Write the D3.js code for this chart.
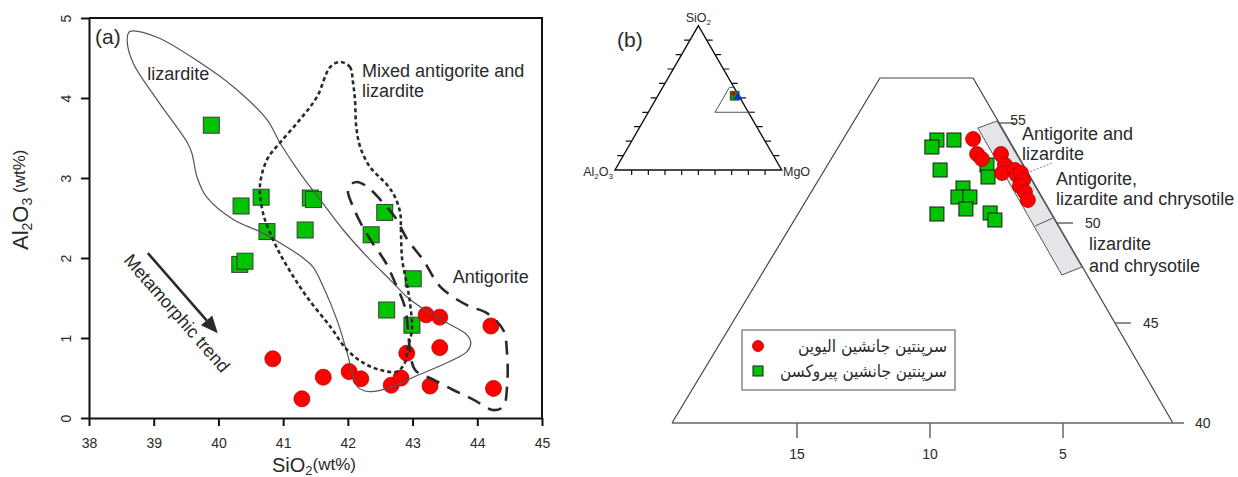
<!DOCTYPE html>
<meta charset="utf-8">
<style>
  body { margin: 0; background: #fff; }
  text { font-family: "Liberation Sans", Arial, sans-serif; fill: #2a2a2a; }
</style>
<body>
<script src="https://d3js.org/d3.v7.min.js"></script>
<script>

var width = 1238,
    height = 477;

// ---- panel (a): SiO2 vs Al2O3 (wt%) ----
var xTicksA = [38, 39, 40, 41, 42, 43, 44, 45];
var yTicksA = [0, 1, 2, 3, 4, 5];

var pyroxeneSiA = [39.89, 40.35, 40.66, 40.75, 40.33, 40.41, 41.42, 41.47, 41.34, 42.57, 42.36, 43.01, 42.60, 42.99];
var pyroxeneAlA = [3.66, 2.65, 2.76, 2.33, 1.92, 1.96, 2.75, 2.73, 2.35, 2.57, 2.29, 1.74, 1.35, 1.16];

var olivineSiA = [40.84, 41.29, 41.62, 42.02, 42.20, 42.67, 42.82, 42.91, 43.21, 43.42, 43.42, 43.27, 44.21, 44.25];
var olivineAlA = [0.74, 0.24, 0.51, 0.58, 0.49, 0.41, 0.50, 0.81, 1.29, 1.26, 0.88, 0.40, 1.15, 0.37];

// field outlines, [SiO2, Al2O3]
var lizarditeField = [[38.63,4.83],[39.05,4.76],[39.72,4.44],[40.23,4.14],[40.75,3.73],[40.95,3.44],[41.26,3.06],
  [41.57,2.73],[41.93,2.35],[42.34,1.98],[42.65,1.73],[42.92,1.51],[43.12,1.39],[43.53,1.19],[43.84,1.04],
  [43.90,0.94],[43.84,0.83],[43.53,0.69],[43.01,0.51],[42.65,0.38],[42.34,0.33],[42.16,0.38],[42.07,0.56],
  [41.99,0.81],[41.83,1.23],[41.62,1.64],[41.46,1.89],[41.26,2.03],[40.95,2.19],[40.64,2.33],[40.23,2.48],
  [39.82,2.76],[39.67,3.01],[39.59,3.31],[39.52,3.44],[39.05,3.98],[38.68,4.44],[38.59,4.73]];

var mixedField = [[41.88,4.45],[42.03,4.39],[42.08,4.19],[42.11,3.98],[42.13,3.64],[42.19,3.39],[42.34,3.14],
  [42.61,2.91],[42.73,2.76],[42.81,2.56],[42.82,2.35],[42.84,1.98],[42.92,1.64],[42.96,1.44],[42.99,1.10],
  [42.93,0.89],[42.88,0.69],[42.76,0.58],[42.50,0.60],[42.24,0.69],[41.99,0.85],[41.73,1.14],[41.37,1.51],
  [41.11,1.83],[40.92,2.10],[40.75,2.41],[40.69,2.56],[40.64,2.89],[40.75,3.23],[40.95,3.44],[41.26,3.73],
  [41.52,4.01],[41.73,4.39]];

var antigoriteField = [[42.03,2.91],[42.00,2.83],[42.07,2.66],[42.19,2.45],[42.37,2.20],[42.58,1.95],[42.73,1.69],
  [42.88,1.39],[42.93,1.10],[42.96,0.85],[43.04,0.60],[43.32,0.48],[43.63,0.35],[43.94,0.23],[44.24,0.10],
  [44.40,0.14],[44.46,0.39],[44.46,0.81],[44.40,1.10],[44.15,1.31],[43.84,1.41],[43.43,1.64],[43.16,1.98],
  [42.92,2.23],[42.73,2.51],[42.50,2.73],[42.30,2.89],[42.14,2.95]];

var trendArrow = [[38.91, 2.06], [39.99, 1.06]];

// ---- panel (b): enlarged part of the SiO2-Al2O3-MgO triangle ----
var bottomTicksB = [15, 10, 5];
var sideTicksB = [55, 50, 45, 40];

var pyroxeneAlB = [9.74, 9.93, 9.10, 9.62, 8.76, 8.95, 8.50, 8.65, 9.74, 7.74, 7.56, 7.86, 7.82];
var pyroxeneSiB = [54.15, 53.80, 54.15, 52.65, 51.75, 51.30, 51.30, 50.70, 50.45, 50.50, 50.15, 52.90, 52.30];

var olivineAlB = [8.38, 8.23, 8.05, 7.33, 7.18, 7.29, 6.81, 6.73, 6.58, 6.50, 6.62, 6.43, 6.32];
var olivineSiB = [54.20, 53.45, 53.20, 53.45, 52.90, 52.50, 52.65, 52.40, 52.50, 52.15, 51.85, 51.55, 51.15];

var frameB = [[19.70, 40], [11.88, 57.25], [8.38, 57.25], [0.87, 40]];
var bandB = [[8.20, 54.75], [7.48, 55.10], [4.29, 47.80], [5.04, 47.40]];
var bandSplitB = [[6.05, 49.85], [5.38, 50.25]];

var legendLabels = ["سرپنتین جانشین الیوین", "سرپنتین جانشین پیروکسن"];

var svg = d3.select("body").append("svg")
    .attr("width", width)
    .attr("height", height);

var green = "#00c400",
    red = "#ff0000";

//============ panel (a) ============
var xA = d3.scaleLinear().domain([38, 45]).range([89, 542]);
var yA = d3.scaleLinear().domain([0, 5]).range([418, 18]);
var gA = svg.append("g");

var axX = gA.append("g")
    .attr("transform", "translate(0," + yA(0) + ")")
    .call(d3.axisBottom(xA).tickValues(xTicksA).tickFormat(d3.format("d"))
      .tickSize(8).tickSizeOuter(0).tickPadding(12));
var axY = gA.append("g")
    .attr("transform", "translate(" + xA(38) + ",0)")
    .call(d3.axisLeft(yA).tickValues(yTicksA).tickFormat(d3.format("d"))
      .tickSize(8).tickSizeOuter(0));

[axX, axY].forEach(function(ax) {
  ax.attr("font-size", 14).attr("font-family", null);
  ax.selectAll(".domain, .tick line").attr("stroke", "#111").attr("stroke-width", 2);
  ax.selectAll("text").attr("fill", "#222");
});
axY.selectAll(".tick text")
    .attr("x", null).attr("dy", null)
    .attr("text-anchor", "middle")
    .attr("transform", "translate(-18,0) rotate(-90)");

gA.append("path")
    .attr("d", "M" + xA(38) + "," + yA(5) + "H" + xA(45) + "V" + yA(0))
    .attr("fill", "none").attr("stroke", "#111").attr("stroke-width", 2);

// axis titles
var xt = gA.append("text").attr("x", 314).attr("y", 472).attr("text-anchor", "middle");
xt.append("tspan").attr("font-size", 20).text("SiO");
xt.append("tspan").attr("font-size", 13).attr("dy", 3).text("2");
xt.append("tspan").attr("font-size", 17).attr("dy", -5).text("(wt%)");

var yt = gA.append("text").attr("transform", "translate(28,250) rotate(-90)");
yt.append("tspan").attr("font-size", 22).text("Al");
yt.append("tspan").attr("font-size", 14).attr("dy", 4).text("2");
yt.append("tspan").attr("font-size", 22).attr("dy", -4).text("O");
yt.append("tspan").attr("font-size", 14).attr("dy", 4).text("3");
yt.append("tspan").attr("font-size", 17).attr("dy", -7).text(" (wt%)");

gA.append("text").attr("x", 95).attr("y", 44).attr("font-size", 21).text("(a)");

// sample points
gA.selectAll("rect.px")
    .data(d3.range(pyroxeneSiA.length))
    .enter().append("rect")
    .attr("x", function(i) { return xA(pyroxeneSiA[i]) - 8; })
    .attr("y", function(i) { return yA(pyroxeneAlA[i]) - 8; })
    .attr("width", 16).attr("height", 16)
    .attr("fill", green).attr("stroke", "#3a3a3a").attr("stroke-width", 1);

gA.selectAll("circle.ol")
    .data(d3.range(olivineSiA.length))
    .enter().append("circle")
    .attr("cx", function(i) { return xA(olivineSiA[i]); })
    .attr("cy", function(i) { return yA(olivineAlA[i]); })
    .attr("r", 8)
    .attr("fill", red).attr("stroke", "#c00000").attr("stroke-width", 0.8);

// fields
var fieldLine = d3.line()
    .x(function(d) { return xA(d[0]); })
    .y(function(d) { return yA(d[1]); })
    .curve(d3.curveCatmullRomClosed.alpha(0.5));

gA.append("path").attr("d", fieldLine(lizarditeField))
    .attr("fill", "none").attr("stroke", "#555").attr("stroke-width", 1.2);
gA.append("path").attr("d", fieldLine(mixedField))
    .attr("fill", "none").attr("stroke", "#2a2a2a").attr("stroke-width", 2.6)
    .attr("stroke-dasharray", "4,3");
gA.append("path").attr("d", fieldLine(antigoriteField))
    .attr("fill", "none").attr("stroke", "#2a2a2a").attr("stroke-width", 2.6)
    .attr("stroke-dasharray", "14,9");

gA.append("text").attr("x", xA(38.9)).attr("y", yA(4.23)).attr("font-size", 18).text("lizardite");
var mx = gA.append("text").attr("x", xA(42.22)).attr("y", yA(4.26)).attr("font-size", 18);
mx.append("tspan").text("Mixed antigorite and");
mx.append("tspan").attr("x", xA(42.22)).attr("dy", 20).text("lizardite");
gA.append("text").attr("x", xA(43.62)).attr("y", yA(1.69)).attr("font-size", 18).text("Antigorite");

// metamorphic trend arrow
var a0 = [xA(trendArrow[0][0]), yA(trendArrow[0][1])],
    a1 = [xA(trendArrow[1][0]), yA(trendArrow[1][1])];
var ang = Math.atan2(a1[1] - a0[1], a1[0] - a0[0]);
var ux = Math.cos(ang), uy = Math.sin(ang), hl = 17, hw = 7.5;
gA.append("line")
    .attr("x1", a0[0]).attr("y1", a0[1])
    .attr("x2", a1[0] - ux * hl).attr("y2", a1[1] - uy * hl)
    .attr("stroke", "#2a2a2a").attr("stroke-width", 2.6);
gA.append("path")
    .attr("d", "M" + a1[0] + "," + a1[1] +
      "L" + (a1[0] - ux * hl - uy * hw) + "," + (a1[1] - uy * hl + ux * hw) +
      "L" + (a1[0] - ux * hl + uy * hw) + "," + (a1[1] - uy * hl - ux * hw) + "Z")
    .attr("fill", "#2a2a2a");
gA.append("text")
    .attr("transform", "translate(" + xA(39.36) + "," + yA(1.31) + ") rotate(" + (ang * 180 / Math.PI) + ")")
    .attr("text-anchor", "middle").attr("dy", "0.35em").attr("font-size", 18)
    .text("Metamorphic trend");

//============ panel (b) ============
var gB = svg.append("g");
gB.append("text").attr("x", 617).attr("y", 47).attr("font-size", 21).text("(b)");

// small ternary
var T = { x0: 615, x1: 781.7, yb: 170, h: 144.3 };
function tern(si, al) {
  var mg = 100 - si - al;
  return [T.x0 + (mg + si / 2) / 100 * (T.x1 - T.x0), T.yb - si / 100 * T.h];
}
var tri = [tern(100, 0), tern(0, 100), tern(0, 0)];
gB.append("path").attr("d", "M" + tri.join("L") + "Z")
    .attr("fill", "none").attr("stroke", "#111").attr("stroke-width", 1.4);
d3.range(10, 100, 10).forEach(function(k) {
  var l = tern(k, 100 - k), r = tern(k, 0), b = tern(0, k);
  gB.append("path")
      .attr("d", "M" + l[0] + "," + l[1] + "h-6M" + r[0] + "," + r[1] + "h6M" + b[0] + "," + b[1] + "v5")
      .attr("stroke", "#111").attr("stroke-width", 1.2);
});
var zoomBox = [tern(40, -4), tern(40, 20), tern(57.25, 2.75), tern(57.25, 0)];
gB.append("path").attr("d", "M" + zoomBox.join("L"))
    .attr("fill", "none").attr("stroke", "#555").attr("stroke-width", 1);
var sq = tern(51.5, 2.5), rd = tern(53, 2.5), bl = tern(50.7, 0.9);
gB.append("rect").attr("x", sq[0] - 4.5).attr("y", sq[1] - 4.5).attr("width", 9).attr("height", 9)
    .attr("fill", "#1a8a1a").attr("stroke", "#114411").attr("stroke-width", 0.6);
gB.append("circle").attr("cx", rd[0]).attr("cy", rd[1]).attr("r", 2).attr("fill", "#d00000");
gB.append("path")
    .attr("d", "M" + bl[0] + "," + (bl[1] - 5) + "l4.5,8h-9Z")
    .attr("fill", "#1030d0");

var st = gB.append("text").attr("x", tri[0][0]).attr("y", 22).attr("text-anchor", "middle").attr("font-size", 12.5);
st.append("tspan").text("SiO");
st.append("tspan").attr("font-size", 8).attr("dy", 3).text("2");
var at = gB.append("text").attr("x", 613).attr("y", 176).attr("text-anchor", "end").attr("font-size", 12.5);
at.append("tspan").text("Al");
at.append("tspan").attr("font-size", 8).attr("dy", 3).text("2");
at.append("tspan").attr("dy", -3).text("O");
at.append("tspan").attr("font-size", 8).attr("dy", 3).text("3");
gB.append("text").attr("x", 783).attr("y", 176).attr("font-size", 12.5).text("MgO");

// enlarged field
var xB = d3.scaleLinear().domain([15, 5]).range([797, 1063]);
var yB = d3.scaleLinear().domain([40, 55]).range([423, 123]);
function pB(d) { return [xB(d[0]), yB(d[1])]; }

gB.append("path").attr("d", "M" + frameB.map(pB).join("L"))
    .attr("fill", "none").attr("stroke", "#444").attr("stroke-width", 1.2);
gB.append("line")
    .attr("x1", xB(frameB[0][0])).attr("x2", xB(0.45))
    .attr("y1", yB(40)).attr("y2", yB(40))
    .attr("stroke", "#666").attr("stroke-width", 1.5);

gB.selectAll("g.bt")
    .data(bottomTicksB)
    .enter().append("g")
    .attr("transform", function(d) { return "translate(" + xB(d) + "," + yB(40) + ")"; })
    .each(function(d) {
      var g = d3.select(this);
      g.append("line").attr("y2", 15).attr("stroke", "#666").attr("stroke-width", 1.5);
      g.append("text").attr("y", 36).attr("text-anchor", "middle").attr("font-size", 14).text(d);
    });

// right edge of frame at a given SiO2
function rightEdge(s) {
  var t = (s - 40) / (57.25 - 40);
  return xB(frameB[3][0]) + t * (xB(frameB[2][0]) - xB(frameB[3][0]));
}
gB.selectAll("g.st")
    .data(sideTicksB)
    .enter().append("g")
    .attr("transform", function(d) { return "translate(" + (d === 40 ? xB(0.45) : rightEdge(d)) + "," + yB(d) + ")"; })
    .each(function(d) {
      var g = d3.select(this);
      if (d !== 40) g.append("line").attr("x2", 16).attr("stroke", "#444").attr("stroke-width", 1.2);
      g.append("text")
          .attr("x", d === 55 ? 11 : d === 40 ? 11 : 28)
          .attr("y", d === 55 ? -3 : 0)
          .attr("dy", "0.35em").attr("font-size", 14).text(d);
    });

// grey band
gB.append("path").attr("d", "M" + bandB.map(pB).join("L") + "Z")
    .attr("fill", "#e3e5e9").attr("stroke", "#555").attr("stroke-width", 1);
gB.append("path").attr("d", "M" + bandSplitB.map(pB).join("L"))
    .attr("stroke", "#555").attr("stroke-width", 1);

// points
gB.selectAll("rect.px")
    .data(d3.range(pyroxeneAlB.length))
    .enter().append("rect")
    .attr("x", function(i) { return xB(pyroxeneAlB[i]) - 7; })
    .attr("y", function(i) { return yB(pyroxeneSiB[i]) - 7; })
    .attr("width", 14).attr("height", 14)
    .attr("fill", green).attr("stroke", "#1a1a1a").attr("stroke-width", 1);
gB.selectAll("circle.ol")
    .data(d3.range(olivineAlB.length))
    .enter().append("circle")
    .attr("cx", function(i) { return xB(olivineAlB[i]); })
    .attr("cy", function(i) { return yB(olivineSiB[i]); })
    .attr("r", 7.5)
    .attr("fill", red).attr("stroke", "#b00000").attr("stroke-width", 0.8);

// field labels
function twoLines(v, s, l1, l2, gap) {
  var t = gB.append("text").attr("x", xB(v)).attr("y", yB(s)).attr("font-size", 18).attr("fill", "#333");
  t.append("tspan").text(l1);
  t.append("tspan").attr("x", xB(v)).attr("dy", gap).text(l2);
}
twoLines(6.54, 54.15, "Antigorite and", "lizardite", 20);
twoLines(5.26, 51.9, "Antigorite,", "lizardite and chrysotile", 20);
twoLines(4.02, 48.65, "lizardite", "and chrysotile", 22);
gB.append("line")
    .attr("x1", xB(6.35)).attr("y1", yB(52.5)).attr("x2", xB(5.41)).attr("y2", yB(53.0))
    .attr("stroke", "#666").attr("stroke-width", 0.8).attr("stroke-dasharray", "2,1.5");

// legend
var legendWidths = [149, 167];
var lg = gB.append("g").attr("transform", "translate(742,330)");
lg.append("rect").attr("width", 213).attr("height", 60)
    .attr("fill", "#fff").attr("stroke", "#888").attr("stroke-width", 1.5);
lg.append("circle").attr("cx", 16).attr("cy", 16).attr("r", 5.5)
    .attr("fill", red).attr("stroke", "#b00000").attr("stroke-width", 0.8);
lg.append("rect").attr("x", 11).attr("y", 36).attr("width", 10).attr("height", 10)
    .attr("fill", green).attr("stroke", "#1a1a1a").attr("stroke-width", 1);
lg.selectAll("text.lg")
    .data(legendLabels)
    .enter().append("text")
    .attr("x", 205).attr("y", function(d, i) { return 22 + i * 25; })
    .attr("text-anchor", "end")
    .attr("font-size", 17)
    .attr("textLength", function(d, i) { return legendWidths[i]; })
    .attr("lengthAdjust", "spacingAndGlyphs")
    .style("font-family", "'DejaVu Sans', sans-serif")
    .text(function(d) { return d; });

</script>
</body>
